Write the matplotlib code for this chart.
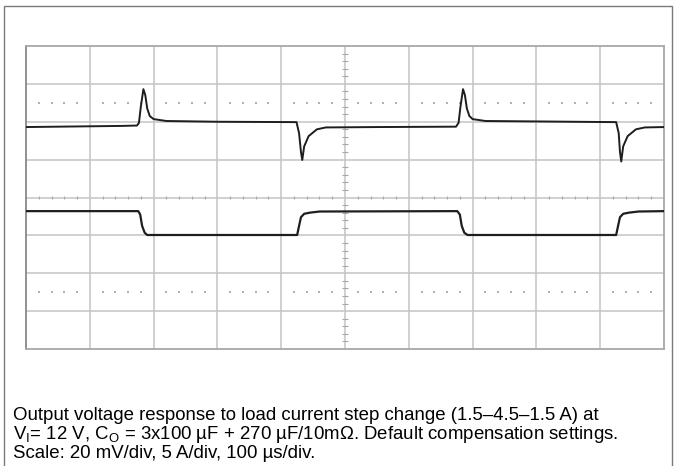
import numpy as np
import matplotlib
matplotlib.use("Agg")
import matplotlib.pyplot as plt
from matplotlib.patches import Rectangle

plt.rcParams['font.family'] = ['Liberation Sans', 'DejaVu Sans']

# time in µs (100 µs/div), traces in screen divisions
v_time = [0, 50, 100, 150, 174, 177, 180, 184, 187, 190, 194, 200, 220, 300, 424,
          428, 431, 433, 436, 443, 456, 470, 550, 674, 678, 681, 685, 688,
          691, 695, 700, 720, 925, 929, 931, 933, 936, 943, 956, 970, 1000]
v_div = [1.86, 1.87, 1.88, 1.89, 1.90, 1.97, 2.40, 2.86, 2.70, 2.35, 2.15, 2.07, 2.02, 2.00, 1.99,
         1.70, 1.20, 0.99, 1.35, 1.62, 1.80, 1.85, 1.86, 1.87, 1.97, 2.40, 2.86, 2.70,
         2.35, 2.15, 2.07, 2.02, 1.99, 1.70, 1.20, 0.95, 1.35, 1.62, 1.80, 1.85, 1.86]

i_time = [0, 176, 179, 182, 186, 190, 425, 428, 431, 436, 445, 460, 676, 680, 683,
          687, 692, 925, 928, 931, 936, 945, 960, 1000]
i_div = [-0.36, -0.36, -0.45, -0.75, -0.93, -0.99, -0.99, -0.75, -0.52, -0.43, -0.40, -0.37,
         -0.36, -0.45, -0.75, -0.93, -0.99, -0.99, -0.75, -0.52, -0.43, -0.40, -0.37, -0.36]

caption = ["Output voltage response to load current step change (1.5\u20134.5\u20131.5 A) at",
           "V$_\\mathregular{I}$= 12 V, C$_\\mathregular{O}$ = 3x100 \u00b5F + 270 \u00b5F/10m\u03a9. Default compensation settings.",
           "Scale: 20 mV/div, 5 A/div, 100 \u00b5s/div."]

fig = plt.figure(figsize=(6.78, 4.66), dpi=100)
ax = fig.add_axes([26 / 678, 117 / 466, 638 / 678, 303 / 466])

gc = '#c4c4c4'
for k in range(1, 10):
    ax.axvline(k * 100, color=gc, lw=1.1, zorder=1)
for k in range(-3, 4):
    ax.axhline(k, color=gc, lw=1.1, zorder=1)

# small ticks on the centre lines
tx = [x for x in np.arange(0, 1001, 20) if x % 100]
ax.vlines(tx, -0.05, 0.05, color='#a8a8a8', lw=0.8, zorder=1)
ty = [y for y in np.arange(-4, 4.01, 0.2) if abs(y - round(y)) > 1e-6]
ax.hlines(ty, 496, 504, color='#a8a8a8', lw=0.8, zorder=1)

# dotted rows
ax.scatter(tx, [2.5] * len(tx), s=0.6, color='#b0b0b0', marker='s', lw=0, zorder=1)
ax.scatter(tx, [-2.5] * len(tx), s=0.6, color='#b0b0b0', marker='s', lw=0, zorder=1)

ax.plot(v_time, v_div, color='#1e1e1e', lw=1.4, zorder=3)
ax.plot(i_time, i_div, color='#1e1e1e', lw=1.6, zorder=3)

ax.set_xlim(0, 1000)
ax.set_ylim(-4, 4)
ax.set_xticks([])
ax.set_yticks([])
for s in ax.spines.values():
    s.set_color('#a8a8a8')
    s.set_linewidth(1.3)
ax.spines['left'].set_color('#888888')

fig.patches.append(Rectangle((4 / 678, -0.02), 668 / 678, (460 / 466) + 0.02,
                             transform=fig.transFigure, fill=False,
                             edgecolor='#7a7a7a', lw=1.0))

for n, line in enumerate(caption):
    fig.text(13 / 678, (466 - 420 - 19 * n) / 466, line, fontsize=13.4,
             color='black', va='baseline', ha='left')

fig.savefig('out.png', dpi=100)
